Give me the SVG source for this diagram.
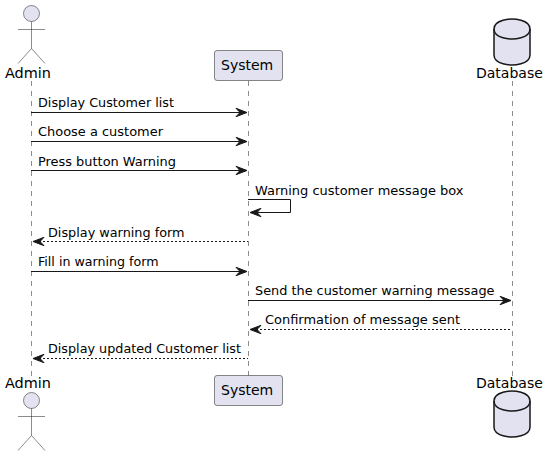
<svg xmlns="http://www.w3.org/2000/svg" width="549" height="456" viewBox="0 0 549 456">
<style>
text{font-family:"DejaVu Sans",sans-serif;fill:#000}
.m{font-size:13px}
.p{font-size:14px}
.b{fill:#E2E2F0;stroke:#181818;stroke-width:.5}
.a{fill:none;stroke:#181818;stroke-width:.5}
.d{fill:#E2E2F0;stroke:#181818;stroke-width:1.5}
.e{fill:none;stroke:#181818;stroke-width:1.5}
.l{fill:none;stroke:#181818;stroke-width:.5;stroke-dasharray:5,5}
.c{fill:none;stroke:#181818;stroke-width:1}
.r{stroke-dasharray:2,2}
.h{fill:#181818;stroke:#181818;stroke-width:1}
</style>
<defs>
<g id="actor"><circle class="b" cx="31.500" cy="13.500" r="8"/><path class="a" d="M31.500 21.500V48.500M18 29.500H45M31.500 48.500L18 63.500M31.500 48.500L45 63.500"/></g>
<g id="db"><path class="d" d="M494 29C494 19 512 19 512 19C512 19 530 19 530 29V55C530 65 512 65 512 65C512 65 494 65 494 55Z"/><path class="e" d="M494 29C494 39 512 39 512 39C512 39 530 39 530 29"/></g>
<path id="hr" class="h" d="M0 0L-11-4.200L-7 0L-11 4.200Z"/>
<path id="hl" class="h" d="M0 0L11-4.200L7 0L11 4.200Z"/>
</defs>
<g id="lifelines">
<path class="l" d="M31.500 81V376"/>
<path class="l" d="M248.500 81V376"/>
<path class="l" d="M512.500 81V376"/>
</g>
<g id="admin-top"><use href="#actor"/><text class="p" x="5" y="78" textLength="46" lengthAdjust="spacingAndGlyphs">Admin</text></g>
<g id="system-top"><rect class="b" x="214.500" y="50.500" width="68" height="30" rx="2.500"/><text class="p" x="221" y="70">System</text></g>
<g id="database-top"><use href="#db"/><text class="p" x="476" y="78">Database</text></g>
<g id="admin-bottom"><use href="#actor" y="387"/><text class="p" x="5" y="388" textLength="46" lengthAdjust="spacingAndGlyphs">Admin</text></g>
<g id="system-bottom"><rect class="b" x="214.500" y="375.500" width="68" height="30" rx="2.500"/><text class="p" x="221" y="395">System</text></g>
<g id="database-bottom"><use href="#db" y="372"/><text class="p" x="476" y="388">Database</text></g>
<g id="connectors">
<path class="c" d="M31 112.500H241"/><use href="#hr" x="247" y="112.500"/>
<path class="c" d="M31 141.500H241"/><use href="#hr" x="247" y="141.500"/>
<path class="c" d="M31 170.500H241"/><use href="#hr" x="247" y="170.500"/>
<path class="c" d="M248 199.500H290.500V212.500H256"/><use href="#hl" x="250" y="212.500"/>
<path class="c r" d="M39 241.500H248"/><use href="#hl" x="33" y="241.500"/>
<path class="c" d="M31 271.500H241"/><use href="#hr" x="247" y="271.500"/>
<path class="c" d="M248 300.500H505"/><use href="#hr" x="511" y="300.500"/>
<path class="c r" d="M256 329.500H512"/><use href="#hl" x="250" y="329.500"/>
<path class="c r" d="M39 358.500H248"/><use href="#hl" x="33" y="358.500"/>
</g>
<g id="labels">
<text class="m" x="38" y="107" textLength="136" lengthAdjust="spacingAndGlyphs">Display Customer list</text>
<text class="m" x="38" y="136" textLength="125" lengthAdjust="spacingAndGlyphs">Choose a customer</text>
<text class="m" x="38" y="165.500" textLength="138" lengthAdjust="spacingAndGlyphs">Press button Warning</text>
<text class="m" x="255" y="195" textLength="208.500" lengthAdjust="spacingAndGlyphs">Warning customer message box</text>
<text class="m" x="48" y="237" textLength="136.500" lengthAdjust="spacingAndGlyphs">Display warning form</text>
<text class="m" x="38" y="266" textLength="120.500" lengthAdjust="spacingAndGlyphs">Fill in warning form</text>
<text class="m" x="255" y="295" textLength="239.500" lengthAdjust="spacingAndGlyphs">Send the customer warning message</text>
<text class="m" x="265" y="324" textLength="195" lengthAdjust="spacingAndGlyphs">Confirmation of message sent</text>
<text class="m" x="48" y="353" textLength="193" lengthAdjust="spacingAndGlyphs">Display updated Customer list</text>
</g>
</svg>
